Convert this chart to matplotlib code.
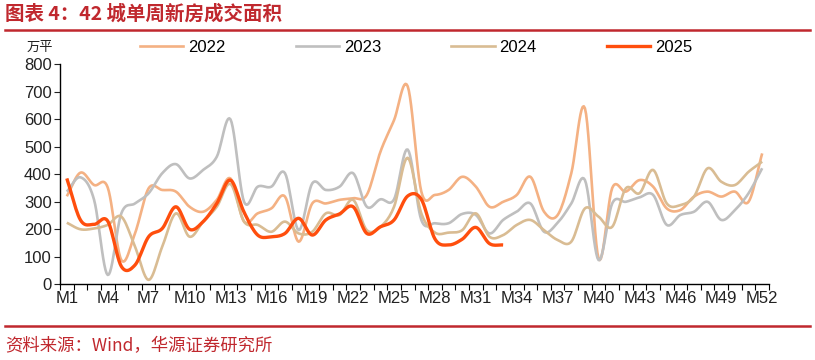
import numpy as np
import matplotlib
matplotlib.use("Agg")
import matplotlib.pyplot as plt
from matplotlib.lines import Line2D

plt.rcParams['font.family'] = ['Liberation Sans', 'Noto Sans CJK SC', 'DejaVu Sans']

weeks = list(range(1, 53))
tick_labels = [f"M{i}" for i in range(1, 53, 3)]

s2022 = [320, 406, 361, 352, 88, 185, 349, 343, 337, 282, 264, 307, 385,
         228, 258, 276, 319, 155, 294, 294, 307, 313, 325, 482, 597, 720,
         337, 325, 343, 391, 355, 282, 300, 325, 391, 264, 252, 404, 640,
         94, 350, 337, 379, 355, 276, 270, 319, 337, 319, 337, 300, 476]
s2023 = [337, 389, 307, 34, 258, 294, 331, 404, 437, 385, 416, 464, 600,
         300, 355, 355, 404, 197, 367, 343, 355, 404, 282, 309, 309, 490,
         234, 222, 222, 256, 252, 185, 234, 264, 294, 191, 224, 294, 379,
         88, 294, 300, 316, 325, 216, 252, 264, 300, 234, 270, 331, 422]
s2024 = [224, 200, 203, 216, 246, 137, 16, 137, 258, 173, 228, 282, 365,
         228, 216, 191, 228, 185, 191, 258, 252, 307, 197, 209, 282, 460,
         258, 188, 188, 197, 258, 173, 179, 216, 234, 197, 161, 155, 276,
         246, 209, 349, 331, 416, 294, 288, 319, 422, 373, 361, 409, 446]
s2025 = [385, 234, 218, 230, 65, 70, 173, 203, 282, 200, 228, 294, 379,
         262, 179, 173, 185, 240, 179, 234, 256, 282, 185, 209, 234, 321,
         309, 165, 143, 164, 207, 148, 143]

series = [("2022", s2022, "#F4B183", 1.9),
          ("2023", s2023, "#BFBFBF", 1.9),
          ("2024", s2024, "#D9BC93", 1.9),
          ("2025", s2025, "#FF4E0D", 2.4)]


def smooth(xs, ys, n=12):
    xs = np.asarray(xs, float)
    ys = np.asarray(ys, float)
    px = np.concatenate([[2 * xs[0] - xs[1]], xs, [2 * xs[-1] - xs[-2]]])
    py = np.concatenate([[2 * ys[0] - ys[1]], ys, [2 * ys[-1] - ys[-2]]])
    outx, outy = [], []
    t = np.linspace(0, 1, n, endpoint=False)
    for i in range(1, len(px) - 2):
        p0x, p1x, p2x, p3x = px[i - 1:i + 3]
        p0y, p1y, p2y, p3y = py[i - 1:i + 3]
        c1x = p1x + (p2x - p0x) / 6
        c1y = p1y + (p2y - p0y) / 6
        c2x = p2x - (p3x - p1x) / 6
        c2y = p2y - (p3y - p1y) / 6
        bx = (1 - t) ** 3 * p1x + 3 * (1 - t) ** 2 * t * c1x + 3 * (1 - t) * t ** 2 * c2x + t ** 3 * p2x
        by = (1 - t) ** 3 * p1y + 3 * (1 - t) ** 2 * t * c1y + 3 * (1 - t) * t ** 2 * c2y + t ** 3 * p2y
        outx.extend(bx)
        outy.extend(by)
    outx.append(xs[-1])
    outy.append(ys[-1])
    return np.array(outx), np.array(outy)


fig = plt.figure(figsize=(8.15, 3.6), dpi=100)
ax = fig.add_axes([60 / 815, 1 - 284.3 / 360, 709 / 815, 220 / 360])

handles = []
for name, vals, col, lw in series:
    xs = weeks[:len(vals)]
    sx, sy = smooth(xs, vals)
    ax.plot(sx, sy, color=col, lw=lw, solid_capstyle='butt', zorder=3 if name == "2025" else 2)
    handles.append(Line2D([], [], color=col, lw=lw))

ax.set_xlim(0.5, 52.5)
ax.set_ylim(0, 800)
ax.set_yticks(range(0, 801, 100))
ax.set_xticks(range(1, 53, 3))
ax.set_xticklabels(tick_labels)
ax.set_xticks(np.arange(0.5, 53, 1), minor=True)
ax.tick_params(axis='x', which='major', length=0, pad=5, labelsize=12, colors='#222222')
ax.tick_params(axis='x', which='minor', length=4, width=0.8, direction='out')
ax.tick_params(axis='y', length=4, width=0.8, direction='out', labelsize=12, pad=2, colors='#222222')
for sp in ['top', 'right']:
    ax.spines[sp].set_visible(False)
for sp in ['left', 'bottom']:
    ax.spines[sp].set_linewidth(1.0)
    ax.spines[sp].set_color('#000000')

fig.legend(handles, [s[0] for s in series], ncol=4, frameon=False,
           loc='center left', bbox_to_anchor=(140 / 815, 1 - 47 / 360),
           handlelength=2.6, handletextpad=0.3, columnspacing=4.2,
           borderpad=0, borderaxespad=0, fontsize=12)

fig.text(27 / 815, 1 - 47 / 360, "万平", fontsize=9.5, family=['Noto Sans CJK SC'],
         va='center', ha='left', color='#222222')

red = '#C0282E'
fig.text(5 / 815, 1 - 14 / 360, "图表 4：42 城单周新房成交面积", fontsize=14,
         family=['Noto Sans CJK SC', 'DejaVu Sans'], weight='bold', color=red,
         va='center', ha='left')
fig.add_artist(Line2D([5 / 815, 810 / 815], [1 - 30 / 360, 1 - 30 / 360], color=red, lw=1.8))
fig.add_artist(Line2D([5 / 815, 810 / 815], [1 - 326 / 360, 1 - 326 / 360], color=red, lw=1.8))
fig.text(5 / 815, 1 - 346 / 360, "资料来源：Wind，华源证券研究所", fontsize=12.5,
         family=['Noto Sans CJK SC', 'DejaVu Sans'], weight='light', color=red,
         va='center', ha='left')

fig.savefig("out.png", dpi=100)
